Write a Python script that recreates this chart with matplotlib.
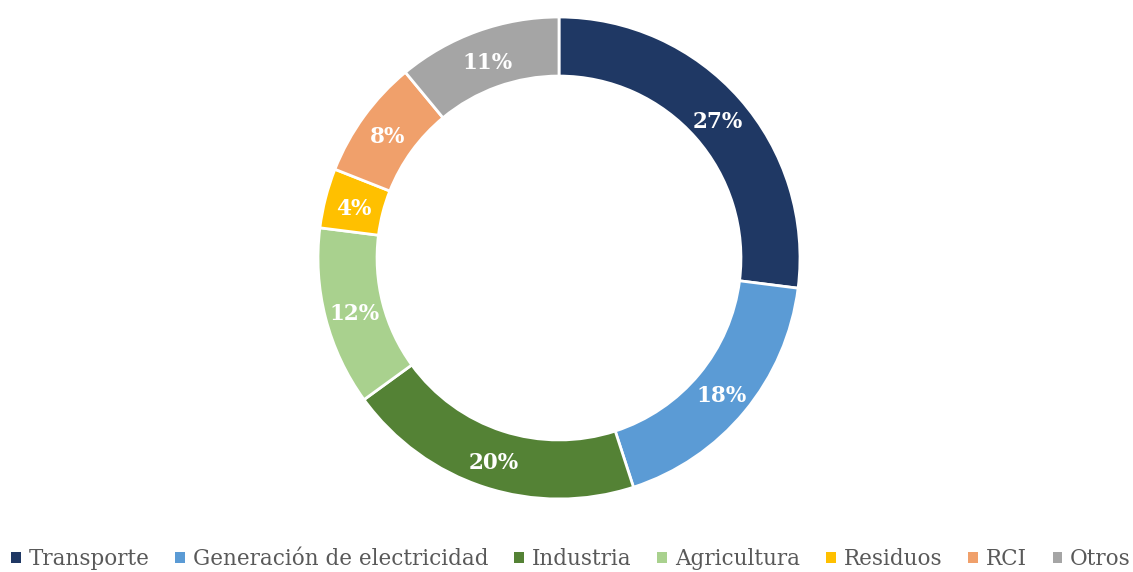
import matplotlib
matplotlib.use("Agg")
import matplotlib.pyplot as plt
from matplotlib.patches import Patch
from matplotlib.transforms import ScaledTranslation

categories = ["Transporte", "Generación de electricidad", "Industria", "Agricultura",
              "Residuos", "RCI", "Otros"]
values = [27, 18, 20, 12, 4, 8, 11]
colors = ["#1F3864", "#5B9BD5", "#548235", "#A9D18E", "#FFC000", "#F0A06B", "#A5A5A5"]

W, H = 1133, 572
fig = plt.figure(figsize=(W / 100, H / 100), dpi=100)
cx, cy, R = 559, 258, 241
ax = fig.add_axes([(cx - R) / W, (H - cy - R) / H, 2 * R / W, 2 * R / H])

wedges, texts, autotexts = ax.pie(
    values, colors=colors, startangle=90, counterclock=False, radius=1,
    autopct=lambda p: f"{p:.0f}%", pctdistance=0.877,
    wedgeprops=dict(width=0.245, edgecolor="white", linewidth=2),
    textprops=dict(color="white", fontsize=15.5, fontweight="bold", family="DejaVu Serif"))
ax.set_xlim(-1, 1)
ax.set_ylim(-1, 1)
ax.axis("off")
shift = ScaledTranslation(0, -3.5 / 100, fig.dpi_scale_trans)
for t in autotexts:
    t.set_transform(ax.transData + shift)

handles = [Patch(facecolor=c, edgecolor="none") for c in colors]
leg = fig.legend(handles, categories, loc="center", bbox_to_anchor=(571 / W, 13 / H),
                 ncol=7, frameon=False, handlelength=0.45, handleheight=0.45,
                 handletextpad=0.37, columnspacing=1.2, borderpad=0, borderaxespad=0,
                 prop=dict(family="DejaVu Serif", size=15.5))
for t in leg.get_texts():
    t.set_color("#595959")

fig.savefig("out.png", dpi=100, facecolor="white")
